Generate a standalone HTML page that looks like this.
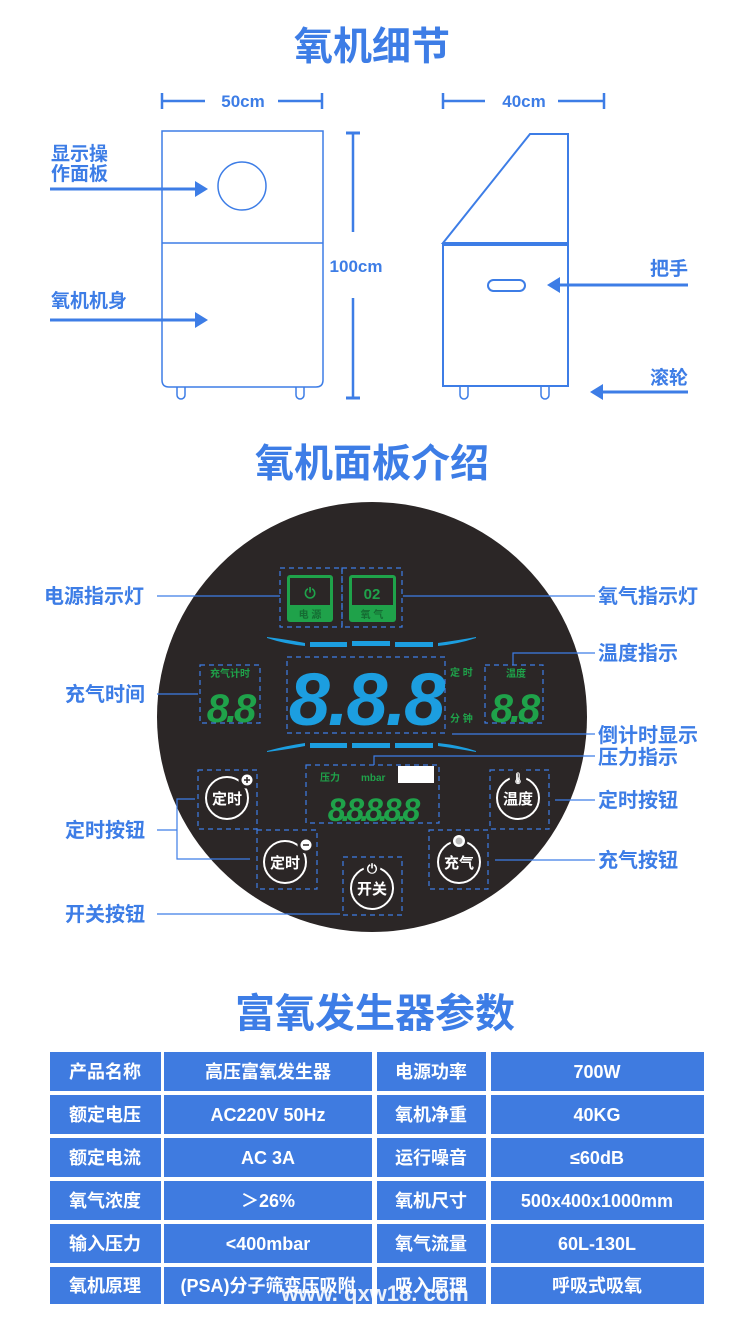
<!DOCTYPE html>
<html><head><meta charset="utf-8"><style>
html,body{margin:0;padding:0;background:#fff;width:750px;height:1338px;overflow:hidden}
svg{display:block}
text{font-family:"Liberation Sans","Noto Sans CJK SC",sans-serif;font-weight:bold}
</style></head><body>
<svg width="750" height="1338" viewBox="0 0 750 1338" xmlns="http://www.w3.org/2000/svg">
<defs>
<marker id="ar" markerWidth="14" markerHeight="16" refX="10" refY="8" orient="auto" markerUnits="userSpaceOnUse"><path d="M0,0 L13,8 L0,16 z" fill="#3d7de6"/></marker>
</defs>
<g fill="#3d7de6" text-anchor="middle">
<text x="372" y="60" font-size="39">氧机细节</text>
<text x="372" y="477" font-size="39">氧机面板介绍</text>
<text x="375" y="1027" font-size="40">富氧发生器参数</text>
</g>
<!-- top drawings -->
<g stroke="#3d7de6" fill="none" stroke-width="1.5">
<path d="M162,131 H323 V380 Q323,387 316,387 H169 Q162,387 162,380 Z"/>
<line x1="162" y1="243" x2="323" y2="243"/>
<circle cx="242" cy="186" r="24"/>
<path d="M177,387 v8 a4,4 0 0 0 8,0 v-8 M296,387 v8 a4,4 0 0 0 8,0 v-8"/>
<path d="M443,243 L530,134 H568 V243 Z" stroke-width="2"/>
<rect x="443" y="245" width="125" height="141" stroke-width="2"/>
<rect x="488" y="280" width="37" height="11" rx="5.5" stroke-width="2"/>
<path d="M460,387 v8 a4,4 0 0 0 8,0 v-8 M541,387 v8 a4,4 0 0 0 8,0 v-8"/>
</g>
<g stroke="#3d7de6" stroke-width="2.5">
<line x1="162" y1="93" x2="162" y2="109"/><line x1="162" y1="101" x2="205" y2="101"/>
<line x1="322" y1="93" x2="322" y2="109"/><line x1="278" y1="101" x2="322" y2="101"/>
<line x1="443" y1="93" x2="443" y2="109"/><line x1="443" y1="101" x2="485" y2="101"/>
<line x1="604" y1="93" x2="604" y2="109"/><line x1="558" y1="101" x2="604" y2="101"/>
<line x1="346" y1="133" x2="360" y2="133" stroke-width="3"/><line x1="346" y1="398" x2="360" y2="398" stroke-width="3"/>
<line x1="353" y1="133" x2="353" y2="232"/><line x1="353" y1="298" x2="353" y2="398"/>
<line x1="50" y1="189" x2="205" y2="189" stroke-width="3" marker-end="url(#ar)"/>
<line x1="50" y1="320" x2="205" y2="320" stroke-width="3" marker-end="url(#ar)"/>
<line x1="688" y1="285" x2="550" y2="285" stroke-width="3" marker-end="url(#ar)"/>
<line x1="688" y1="392" x2="593" y2="392" stroke-width="3" marker-end="url(#ar)"/>
</g>
<g fill="#3d7de6" font-size="17">
<text x="243" y="107" text-anchor="middle">50cm</text>
<text x="524" y="107" text-anchor="middle">40cm</text>
<text x="356" y="272" text-anchor="middle">100cm</text>
<g font-size="19"><text x="51" y="160">显示操</text><text x="51" y="180">作面板</text>
<text x="51" y="307">氧机机身</text>
<text x="688" y="275" text-anchor="end">把手</text>
<text x="688" y="384" text-anchor="end">滚轮</text></g>
</g>
<!-- panel -->
<circle cx="372" cy="717" r="215" fill="#2b2626"/>
<g fill="none" stroke="#3d7de6" stroke-width="1.2" stroke-dasharray="5,4">
<rect x="280" y="568" width="62" height="59"/><rect x="342" y="568" width="60" height="59"/>
<rect x="200" y="665" width="60" height="58"/>
<rect x="287" y="657" width="158" height="76"/>
<rect x="485" y="665" width="58" height="58"/>
<rect x="306" y="765" width="133" height="58"/>
<rect x="198" y="770" width="59" height="59"/><rect x="257" y="830" width="60" height="59"/>
<rect x="343" y="857" width="59" height="58"/><rect x="429" y="830" width="59" height="59"/>
<rect x="490" y="770" width="59" height="59"/>
</g>
<g>
<rect x="287" y="575" width="46" height="47" rx="3" fill="#1fa24a"/><rect x="290" y="578" width="40" height="27" fill="#2b2626"/>
<rect x="349" y="575" width="47" height="47" rx="3" fill="#1fa24a"/><rect x="352" y="578" width="41" height="27" fill="#2b2626"/>
<text x="310" y="598" font-size="14" fill="#1fa24a" text-anchor="middle" font-weight="normal">⏻</text>
<text x="372" y="599" font-size="15" fill="#1fa24a" text-anchor="middle" font-weight="normal">02</text>
<text x="310" y="618" font-size="10" fill="#156c33" text-anchor="middle">电 源</text>
<text x="372" y="618" font-size="10" fill="#156c33" text-anchor="middle">氧 气</text>
</g>
<g fill="#1c9ee0">
<path d="M267,637 Q290,640 305,643 L305,646 Q285,644 267,638Z"/>
<rect x="310" y="642" width="37" height="5"/><rect x="352" y="641" width="38" height="5"/><rect x="395" y="642" width="38" height="5"/>
<path d="M438,643 Q460,640 476,637 L476,638 Q458,644 438,646Z"/>
<path d="M267,752 Q290,749 305,746 L305,743 Q285,746 267,751Z"/>
<rect x="310" y="743" width="37" height="5"/><rect x="352" y="743" width="38" height="5"/><rect x="395" y="743" width="38" height="5"/>
<path d="M438,746 Q460,749 476,752 L476,751 Q458,745 438,743Z"/>
</g>
<g font-style="italic">
<text x="366" y="725" font-size="74" fill="#1c9ee0" text-anchor="middle" font-family="Liberation Mono,monospace" font-weight="bold" letter-spacing="-2">8.8.8</text>
<text x="230" y="722" font-size="40" fill="#1fa24a" text-anchor="middle" font-family="Liberation Mono,monospace" letter-spacing="-3">8.8</text>
<text x="514" y="722" font-size="40" fill="#1fa24a" text-anchor="middle" font-family="Liberation Mono,monospace" letter-spacing="-3">8.8</text>
<text x="372" y="821" font-size="32" fill="#1fa24a" text-anchor="middle" font-family="Liberation Mono,monospace" letter-spacing="-4">8.8.8.8.8</text>
</g>
<g fill="#1fa24a" font-size="10" font-weight="normal">
<text x="230" y="677" text-anchor="middle">充气计时</text>
<text x="516" y="677" text-anchor="middle">温度</text>
<text x="450" y="676">定 时</text>
<text x="450" y="722">分 钟</text>
<text x="320" y="781">压力</text>
<text x="361" y="781">mbar</text>
</g>
<rect x="398" y="766" width="36" height="17" fill="#fff"/>
<g fill="none" stroke="#fff" stroke-width="2">
<circle cx="227" cy="798" r="21"/><circle cx="285" cy="862" r="21"/><circle cx="372" cy="888" r="21"/><circle cx="459" cy="862" r="21"/><circle cx="518" cy="798" r="21"/>
</g>
<g fill="#2b2626" stroke="#2b2626" stroke-width="3">
<circle cx="247" cy="780" r="7"/><circle cx="306" cy="845" r="7"/><circle cx="372" cy="867" r="7"/><circle cx="459" cy="841" r="7"/><circle cx="518" cy="777" r="7"/>
</g>
<g fill="#fff" font-size="15" text-anchor="middle" font-weight="normal">
<text x="227" y="804">定时</text><text x="285" y="868">定时</text><text x="372" y="894">开关</text><text x="459" y="868">充气</text><text x="518" y="804">温度</text>
<circle cx="247" cy="780" r="5.5"/><circle cx="306" cy="845" r="5.5"/><circle cx="459" cy="841" r="6"/>
<text x="372" y="873" font-size="13">⏻</text><text x="518" y="782" font-size="11">🌡</text>
</g>
<g stroke="#2b2626" stroke-width="1.5"><line x1="244" y1="780" x2="250" y2="780"/><line x1="247" y1="777" x2="247" y2="783"/><line x1="303" y1="845" x2="309" y2="845"/></g>
<circle cx="459" cy="841" r="3.5" fill="#bbb"/>
<!-- leaders -->
<g stroke="#3d7de6" stroke-width="1.2" fill="none">
<line x1="157" y1="596" x2="280" y2="596"/>
<line x1="403" y1="596" x2="595" y2="596"/>
<path d="M513,665 V653 H595"/>
<line x1="157" y1="694" x2="198" y2="694"/>
<line x1="452" y1="734" x2="595" y2="734"/>
<path d="M374,765 V756 H595"/>
<line x1="555" y1="800" x2="595" y2="800"/>
<path d="M195,799 H177 V859 H250"/>
<line x1="157" y1="830" x2="177" y2="830"/>
<line x1="495" y1="860" x2="595" y2="860"/>
<line x1="157" y1="914" x2="340" y2="914"/>
</g>
<g fill="#3d7de6" font-size="20">
<text x="44" y="603">电源指示灯</text>
<text x="65" y="701">充气时间</text>
<text x="65" y="837">定时按钮</text>
<text x="65" y="921">开关按钮</text>
<text x="598" y="603">氧气指示灯</text>
<text x="598" y="660">温度指示</text>
<text x="598" y="742">倒计时显示</text>
<text x="598" y="764">压力指示</text>
<text x="598" y="807">定时按钮</text>
<text x="598" y="867">充气按钮</text>
</g>
<!-- table -->
<g fill="#3f7be0">
<rect x="50" y="1052" width="111" height="39"/><rect x="164" y="1052" width="208" height="39"/><rect x="377" y="1052" width="109" height="39"/><rect x="491" y="1052" width="213" height="39"/>
<rect x="50" y="1095" width="111" height="39"/><rect x="164" y="1095" width="208" height="39"/><rect x="377" y="1095" width="109" height="39"/><rect x="491" y="1095" width="213" height="39"/>
<rect x="50" y="1138" width="111" height="39"/><rect x="164" y="1138" width="208" height="39"/><rect x="377" y="1138" width="109" height="39"/><rect x="491" y="1138" width="213" height="39"/>
<rect x="50" y="1181" width="111" height="39"/><rect x="164" y="1181" width="208" height="39"/><rect x="377" y="1181" width="109" height="39"/><rect x="491" y="1181" width="213" height="39"/>
<rect x="50" y="1224" width="111" height="39"/><rect x="164" y="1224" width="208" height="39"/><rect x="377" y="1224" width="109" height="39"/><rect x="491" y="1224" width="213" height="39"/>
<rect x="50" y="1267" width="111" height="37"/><rect x="164" y="1267" width="208" height="37"/><rect x="377" y="1267" width="109" height="37"/><rect x="491" y="1267" width="213" height="37"/>
</g>
<g fill="#fff" font-size="18" text-anchor="middle">
<text x="105" y="1078">产品名称</text><text x="268" y="1078">高压富氧发生器</text><text x="431" y="1078">电源功率</text><text x="597" y="1078">700W</text>
<text x="105" y="1121">额定电压</text><text x="268" y="1121">AC220V 50Hz</text><text x="431" y="1121">氧机净重</text><text x="597" y="1121">40KG</text>
<text x="105" y="1164">额定电流</text><text x="268" y="1164">AC 3A</text><text x="431" y="1164">运行噪音</text><text x="597" y="1164">≤60dB</text>
<text x="105" y="1207">氧气浓度</text><text x="268" y="1207">＞26%</text><text x="431" y="1207">氧机尺寸</text><text x="597" y="1207">500x400x1000mm</text>
<text x="105" y="1250">输入压力</text><text x="268" y="1250">&lt;400mbar</text><text x="431" y="1250">氧气流量</text><text x="597" y="1250">60L-130L</text>
<text x="105" y="1292">氧机原理</text><text x="268" y="1292">(PSA)分子筛变压吸附</text><text x="431" y="1292">吸入原理</text><text x="597" y="1292">呼吸式吸氧</text>
</g>
<text x="375" y="1301" fill="#fff" font-size="22" text-anchor="middle" font-weight="normal" opacity="0.9">www. qxw18. com</text>
</svg>
</body></html>
